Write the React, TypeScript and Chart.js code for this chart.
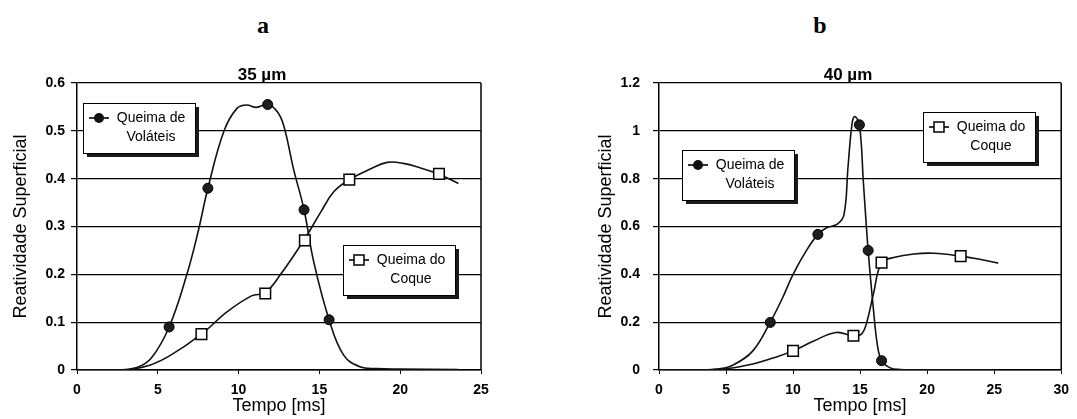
import React, { useEffect, useRef } from 'react';
import { Chart, registerables } from 'chart.js';
Chart.register(...registerables);

const FONT = '"Liberation Sans", Arial, Helvetica, sans-serif';

// ---------- Panel a (35 µm) ----------
const aVolCurveX = [0, 2.5, 3.7, 4.6, 5.7, 6.8, 7.5, 8.1, 9.1, 9.9, 10.5, 11.1, 11.8, 12.4, 12.8, 13.4, 14.05, 14.65, 15.6, 16.5, 17.5, 18.5, 20, 23.6];
const aVolCurveY = [0, 0, 0.005, 0.025, 0.09, 0.2, 0.29, 0.38, 0.5, 0.547, 0.554, 0.549, 0.555, 0.54, 0.51, 0.42, 0.335, 0.226, 0.105, 0.031, 0.007, 0.003, 0.002, 0.001];
const aCokeCurveX = [0, 3, 4.5, 5.8, 7.7, 9.3, 10.8, 11.65, 12.6, 14.05, 15.1, 15.9, 16.85, 18.15, 19.2, 20.2, 21.3, 22.35, 23.6];
const aCokeCurveY = [0, 0, 0.01, 0.031, 0.075, 0.122, 0.155, 0.162, 0.2, 0.272, 0.331, 0.373, 0.398, 0.42, 0.434, 0.432, 0.422, 0.41, 0.39];
const aVolMarkX = [5.7, 8.1, 11.8, 14.05, 15.6];
const aVolMarkY = [0.09, 0.38, 0.555, 0.335, 0.105];
const aCokeMarkX = [7.7, 11.65, 14.1, 16.85, 22.4];
const aCokeMarkY = [0.075, 0.16, 0.271, 0.398, 0.41];
const aXTicks = ['0', '5', '10', '15', '20', '25'];
const aYTicks = ['0', '0.1', '0.2', '0.3', '0.4', '0.5', '0.6'];

// ---------- Panel b (40 µm) ----------
const bVolCurveX = [0, 3, 4.5, 5.5, 7, 8.3, 9.2, 10, 11, 11.85, 12.5, 13.3, 13.8, 14.1, 14.4, 14.6, 14.95, 15.25, 15.6, 16, 16.3, 16.6, 17.2, 18, 20, 25];
const bVolCurveY = [0, 0, 0.005, 0.02, 0.08, 0.2, 0.3, 0.4, 0.5, 0.567, 0.595, 0.61, 0.65, 0.85, 1.03, 1.06, 1.025, 0.78, 0.5, 0.25, 0.1, 0.04, 0.01, 0.002, 0, 0];
const bCokeCurveX = [0, 3, 5, 7, 8.5, 10, 11.5, 13.2, 14.5, 15.1, 15.5, 16, 16.6, 17.5, 19, 20.5, 22.5, 24, 25.3];
const bCokeCurveY = [0, 0, 0.005, 0.025, 0.05, 0.08, 0.12, 0.157, 0.143, 0.15, 0.2, 0.32, 0.449, 0.47, 0.485, 0.488, 0.476, 0.462, 0.447];
const bVolMarkX = [8.3, 11.85, 14.95, 15.6, 16.6];
const bVolMarkY = [0.199, 0.567, 1.025, 0.5, 0.039];
const bCokeMarkX = [10.0, 14.5, 16.6, 22.5];
const bCokeMarkY = [0.08, 0.143, 0.449, 0.476];
const bXTicks = ['0', '5', '10', '15', '20', '25', '30'];
const bYTicks = ['0', '0.2', '0.4', '0.6', '0.8', '1', '1.2'];

const VOL_LINES = ['Queima de', 'Voláteis'];
const COKE_LINES = ['Queima do', 'Coque'];

const zip = (xs: number[], ys: number[]) => xs.map((x, i) => ({ x, y: ys[i] }));

function drawLegend(ctx: CanvasRenderingContext2D, x: number, y: number, lines: string[], marker: 'circle' | 'square') {
  const w = 112, h = 50;
  ctx.fillStyle = '#1a1a1a';
  ctx.fillRect(x + 4, y + 4, w, h);
  ctx.fillStyle = '#fff';
  ctx.fillRect(x, y, w, h);
  ctx.strokeStyle = '#000';
  ctx.lineWidth = 1;
  ctx.strokeRect(x + 0.5, y + 0.5, w, h);
  const ly1 = y + 15, ly2 = y + 34;
  ctx.lineWidth = 1.6;
  ctx.beginPath();
  ctx.moveTo(x + 6, ly1);
  ctx.lineTo(x + 26, ly1);
  ctx.stroke();
  if (marker === 'circle') {
    ctx.fillStyle = '#111';
    ctx.beginPath();
    ctx.arc(x + 16, ly1, 5, 0, Math.PI * 2);
    ctx.fill();
  } else {
    ctx.fillStyle = '#fff';
    ctx.fillRect(x + 11, ly1 - 5, 10, 10);
    ctx.lineWidth = 1.5;
    ctx.strokeRect(x + 11, ly1 - 5, 10, 10);
  }
  ctx.fillStyle = '#000';
  ctx.font = `14px ${FONT}`;
  ctx.textAlign = 'center';
  ctx.textBaseline = 'middle';
  ctx.fillText(lines[0], x + 68, ly1);
  ctx.fillText(lines[1], x + 68, ly2);
}

type PanelCfg = {
  title: string;
  titleDx: number;
  volCurve: { x: number; y: number }[];
  cokeCurve: { x: number; y: number }[];
  volMarks: { x: number; y: number }[];
  cokeMarks: { x: number; y: number }[];
  xMax: number;
  yMax: number;
  yStep: number;
  xTicks: string[];
  yTicks: string[];
  yWidth: number;
  yPad: number;
  yTitlePad: number;
  padRight: number;
  volLegend: [number, number];
  cokeLegend: [number, number];
};

function makeConfig(p: PanelCfg): any {
  const decor = {
    id: 'decor',
    afterDraw(chart: any) {
      const { ctx, chartArea: ca } = chart;
      ctx.save();
      ctx.strokeStyle = '#000';
      ctx.lineWidth = 1.5;
      ctx.beginPath();
      ctx.moveTo(ca.right, ca.top);
      ctx.lineTo(ca.right, ca.bottom);
      ctx.stroke();
      ctx.fillStyle = '#000';
      ctx.font = `bold 17px ${FONT}`;
      ctx.textAlign = 'center';
      ctx.textBaseline = 'alphabetic';
      ctx.fillText(p.title, ca.left + p.titleDx, ca.top - 3);
      drawLegend(ctx, ca.left + p.volLegend[0], ca.top + p.volLegend[1], VOL_LINES, 'circle');
      drawLegend(ctx, ca.left + p.cokeLegend[0], ca.top + p.cokeLegend[1], COKE_LINES, 'square');
      ctx.restore();
    },
  };
  const curveStyle = {
    showLine: true,
    borderColor: '#111',
    borderWidth: 1.6,
    pointRadius: 0,
    pointHoverRadius: 0,
    tension: 0.4,
    fill: false,
    order: 2,
  };
  return {
    type: 'scatter',
    data: {
      datasets: [
        { label: 'Queima de Voláteis', data: p.volCurve, ...curveStyle },
        { label: 'Queima do Coque', data: p.cokeCurve, ...curveStyle },
        {
          label: 'Queima de Voláteis (pontos)', data: p.volMarks, showLine: false, pointStyle: 'circle',
          pointRadius: 5, backgroundColor: '#1e1e1e', borderColor: '#000', borderWidth: 1, order: 0,
        },
        {
          label: 'Queima do Coque (pontos)', data: p.cokeMarks, showLine: false, pointStyle: 'rect',
          pointRadius: 7.5, backgroundColor: '#fff', borderColor: '#000', borderWidth: 1.5, order: 0,
        },
      ],
    },
    options: {
      responsive: false,
      animation: false,
      events: [],
      layout: { padding: { top: 83, left: 0, right: p.padRight, bottom: 0 } },
      plugins: { legend: { display: false }, tooltip: { enabled: false }, title: { display: false } },
      scales: {
        x: {
          type: 'linear',
          min: 0,
          max: p.xMax,
          afterFit: (s: any) => { s.height = 49; },
          ticks: {
            stepSize: 5,
            maxRotation: 0,
            padding: 8,
            color: '#000',
            font: { family: FONT, size: 14, weight: 'bold' },
            callback: (_v: any, i: number) => p.xTicks[i],
          },
          grid: { drawOnChartArea: false, drawTicks: true, tickLength: 4, color: '#000', lineWidth: 1 },
          border: { color: '#000', width: 1.5 },
          title: {
            display: true, text: 'Tempo [ms]', color: '#000',
            font: { family: FONT, size: 18 }, padding: { top: 0, bottom: 2 },
          },
        },
        y: {
          type: 'linear',
          min: 0,
          max: p.yMax,
          afterFit: (s: any) => { s.width = p.yWidth; },
          ticks: {
            stepSize: p.yStep,
            padding: p.yPad,
            color: '#000',
            font: { family: FONT, size: 14, weight: 'bold' },
            callback: (_v: any, i: number) => p.yTicks[i],
          },
          grid: { color: '#000', lineWidth: 1.2, drawTicks: true, tickLength: 6 },
          border: { color: '#000', width: 1.5 },
          title: {
            display: true, text: 'Reatividade Superficial', color: '#000',
            font: { family: FONT, size: 18 }, padding: { top: p.yTitlePad, bottom: 0 },
          },
        },
      },
    },
    plugins: [decor],
  };
}

const panelA: PanelCfg = {
  title: '35 µm', titleDx: 185,
  volCurve: zip(aVolCurveX, aVolCurveY), cokeCurve: zip(aCokeCurveX, aCokeCurveY),
  volMarks: zip(aVolMarkX, aVolMarkY), cokeMarks: zip(aCokeMarkX, aCokeMarkY),
  xMax: 25, yMax: 0.6, yStep: 0.1, xTicks: aXTicks, yTicks: aYTicks,
  yWidth: 77, yPad: 6, yTitlePad: 10, padRight: 59,
  volLegend: [6, 20], cokeLegend: [266, 162],
};

const panelB: PanelCfg = {
  title: '40 µm', titleDx: 189,
  volCurve: zip(bVolCurveX, bVolCurveY), cokeCurve: zip(bCokeCurveX, bCokeCurveY),
  volMarks: zip(bVolMarkX, bVolMarkY), cokeMarks: zip(bCokeMarkX, bCokeMarkY),
  xMax: 30, yMax: 1.2, yStep: 0.2, xTicks: bXTicks, yTicks: bYTicks,
  yWidth: 99, yPad: 13, yTitlePad: 35, padRight: 10,
  volLegend: [23, 67], cokeLegend: [264, 29],
};

function Panel({ cfg, left, width }: { cfg: PanelCfg; left: number; width: number }) {
  const ref = useRef<HTMLCanvasElement | null>(null);
  useEffect(() => {
    if (!ref.current) return;
    const chart = new Chart(ref.current, makeConfig(cfg));
    return () => chart.destroy();
  }, [cfg]);
  return (
    <canvas
      ref={ref}
      width={width}
      height={419}
      style={{ position: 'absolute', left, top: 0, width, height: 419 }}
    />
  );
}

const letterStyle: React.CSSProperties = {
  position: 'absolute',
  top: 13,
  width: 40,
  textAlign: 'center',
  fontFamily: '"Liberation Serif", "Times New Roman", serif',
  fontWeight: 'bold',
  fontSize: 24,
  lineHeight: '24px',
  color: '#000',
};

export default function App() {
  return (
    <div style={{ position: 'absolute', left: 0, top: 0, width: 1077, height: 419, background: '#fff', overflow: 'hidden' }}>
      <div style={{ ...letterStyle, left: 263 - 20 }}>a</div>
      <div style={{ ...letterStyle, left: 820 - 20 }}>b</div>
      <Panel cfg={panelA} left={0} width={540} />
      <Panel cfg={panelB} left={560} width={517} />
    </div>
  );
}
